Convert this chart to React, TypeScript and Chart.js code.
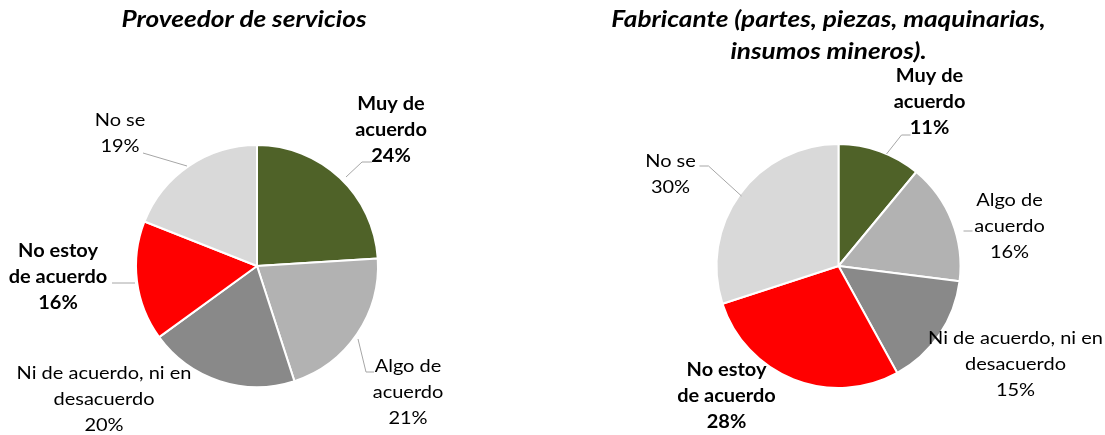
import React, { useEffect, useRef } from 'react';
import { Chart, registerables } from 'chart.js';

Chart.register(...registerables);

// ---------- data ----------
const categories = [
  'Muy de acuerdo',
  'Algo de acuerdo',
  'Ni de acuerdo, ni en desacuerdo',
  'No estoy de acuerdo',
  'No se',
];
const categoryLines = [
  ['Muy de', 'acuerdo'],
  ['Algo de', 'acuerdo'],
  ['Ni de acuerdo, ni en', 'desacuerdo'],
  ['No estoy', 'de acuerdo'],
  ['No se'],
];
const serviciosValues = [24, 21, 20, 16, 19];
const fabricanteValues = [11, 16, 15, 28, 30];
const serviciosTitle = ['Proveedor de servicios'];
const fabricanteTitle = ['Fabricante (partes, piezas, maquinarias,', 'insumos mineros).'];

// ---------- styles ----------
const sliceColors = ['#4F6228', '#B2B2B2', '#898989', '#FF0000', '#D9D9D9'];
const boldLabels = [true, false, false, true, false];

type LabelStyle = { text: [number, number]; leader?: [number, number][] };

// offsets relative to pie centre
const serviciosLabelLayout: LabelStyle[] = [
  { text: [134, -136], leader: [[89, -89], [105, -104], [115, -104]] },
  { text: [151, 126], leader: [[101, 73], [109, 106], [117, 106]] },
  { text: [-153, 133] },
  { text: [-199, 11], leader: [[-145, 17], [-122, 17]] },
  { text: [-137, -133], leader: [[-114, -113], [-70, -100]] },
];
const fabricanteLabelLayout: LabelStyle[] = [
  { text: [91, -164], leader: [[48, -112], [63, -131], [72, -131]] },
  { text: [171, -40], leader: [[125, -35], [134, -35]] },
  { text: [177, 98] },
  { text: [-112, 130] },
  { text: [-168, -92], leader: [[-139, -100], [-130, -100], [-97, -70]] },
];

const FONT = 'Lato, "Open Sans", sans-serif';
const LABEL_STRETCH = 1.11;
const TITLE_STRETCH = 1.19;

function stretchedText(ctx: CanvasRenderingContext2D, t: string, x: number, y: number, sx: number) {
  ctx.save();
  ctx.translate(x, y);
  ctx.scale(sx, 1);
  ctx.fillText(t, 0, 0);
  ctx.restore();
}

const labelPlugin = {
  id: 'pieLabels',
  afterDatasetsDraw(chart: any, _args: any, opts: any) {
    const ctx = chart.ctx as CanvasRenderingContext2D;
    const meta = chart.getDatasetMeta(0);
    const arc0 = meta.data[0];
    if (!arc0) return;
    const cx = arc0.x;
    const cy = arc0.y;
    const values = chart.data.datasets[0].data as number[];
    const layout: LabelStyle[] = opts.layout;
    ctx.save();
    layout.forEach((l, i) => {
      if (l.leader) {
        ctx.beginPath();
        ctx.strokeStyle = '#A6A6A6';
        ctx.lineWidth = 1;
        l.leader.forEach(([x, y], k) => {
          if (k === 0) ctx.moveTo(cx + x, cy + y);
          else ctx.lineTo(cx + x, cy + y);
        });
        ctx.stroke();
      }
      const lines = [...categoryLines[i], values[i] + '%'];
      ctx.font = `${boldLabels[i] ? 'bold ' : ''}18px ${FONT}`;
      ctx.fillStyle = '#000000';
      ctx.textAlign = 'center';
      ctx.textBaseline = 'middle';
      const lh = 26;
      const top = cy + l.text[1] - ((lines.length - 1) * lh) / 2;
      lines.forEach((t, k) => stretchedText(ctx, t, cx + l.text[0], top + k * lh, LABEL_STRETCH));
    });
    // title
    ctx.font = `italic bold 22px ${FONT}`;
    ctx.fillStyle = '#000000';
    ctx.textAlign = 'center';
    ctx.textBaseline = 'middle';
    (opts.title as string[]).forEach((t, k) => {
      stretchedText(ctx, t, chart.width / 2, 20 + k * 32, TITLE_STRETCH);
    });
    ctx.restore();
  },
};

function PieCanvas(props: {
  values: number[];
  title: string[];
  layout: LabelStyle[];
  left: number;
  width: number;
  padding: { left: number; right: number; top: number; bottom: number };
}) {
  const ref = useRef<HTMLCanvasElement | null>(null);
  useEffect(() => {
    if (!ref.current) return;
    const chart = new Chart(ref.current, {
      type: 'pie',
      data: {
        labels: categories,
        datasets: [
          {
            data: props.values,
            backgroundColor: sliceColors,
            borderColor: '#FFFFFF',
            borderWidth: 2,
          },
        ],
      },
      options: {
        animation: false,
        responsive: false,
        devicePixelRatio: 1,
        layout: { padding: props.padding },
        plugins: {
          legend: { display: false },
          tooltip: { enabled: false },
          // @ts-ignore
          pieLabels: { layout: props.layout, title: props.title },
        },
      } as any,
      plugins: [labelPlugin],
    });
    return () => chart.destroy();
  }, []);
  return (
    <canvas
      ref={ref}
      width={props.width}
      height={435}
      style={{ position: 'absolute', left: props.left, top: 0, width: props.width, height: 435 }}
    />
  );
}

export default function App() {
  return (
    <div style={{ position: 'absolute', left: 0, top: 0, width: 1105, height: 435, background: '#fff', overflow: 'hidden' }}>
      <PieCanvas
        values={serviciosValues}
        title={serviciosTitle}
        layout={serviciosLabelLayout}
        left={0}
        width={488}
        padding={{ left: 135, right: 109, top: 144, bottom: 47 }}
      />
      <PieCanvas
        values={fabricanteValues}
        title={fabricanteTitle}
        layout={fabricanteLabelLayout}
        left={552}
        width={553}
        padding={{ left: 163, right: 143, top: 143, bottom: 46 }}
      />
    </div>
  );
}
